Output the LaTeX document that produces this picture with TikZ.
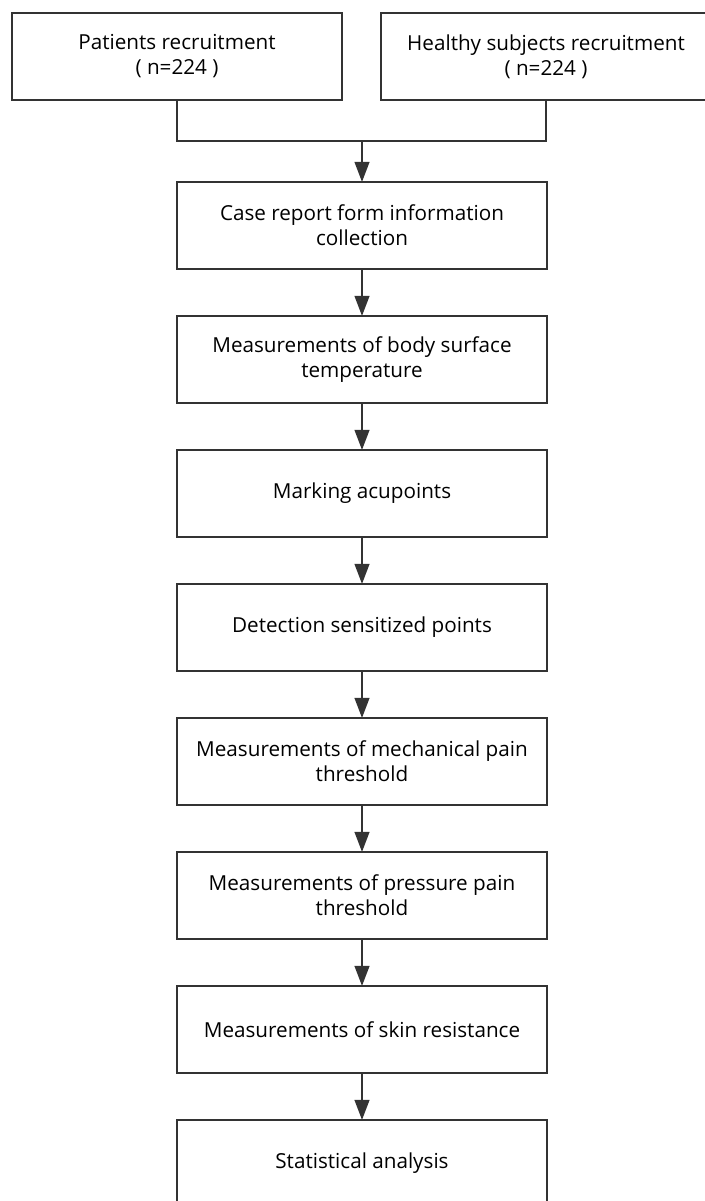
\documentclass[tikz,border=0pt]{standalone}
\usepackage{fontspec}
\setmainfont{Open Sans}
\usetikzlibrary{arrows.meta,positioning}

\tikzset{
  stepbox/.style={draw=black!80,line width=1.5pt,outer sep=0pt,align=center,
    minimum width=277.5pt,minimum height=65.25pt,font=\fontsize{15.5}{18.75}\selectfont},
  topbox/.style={stepbox,minimum width=247.5pt},
  flow/.style={draw=black!80,line width=1.5pt,-{Triangle[length=15pt,width=11pt]}}
}

\begin{document}
\begin{tikzpicture}[node distance=35.25pt]
      \useasboundingbox (0,0) rectangle (528pt,-900.75pt);
      % recruitment
      \node[topbox] (patients) at (132.75pt,-42.4pt) {Patients recruitment\\( n=224 )};
      \node[topbox] (healthy) at (409.5pt,-42.4pt) {Healthy subjects recruitment\\( n=224 )};
      \coordinate (join) at (271.5pt,-105.75pt);
      % main steps
      \node[stepbox] (crf) at (271.5pt,-169.1pt) {Case report form information\\collection};
      \node[stepbox,below=of crf] (temp) {Measurements of body surface\\temperature};
      \node[stepbox,below=of temp] (mark) {Marking acupoints};
      \node[stepbox,below=of mark] (detect) {Detection sensitized points};
      \node[stepbox,below=of detect] (mech) {Measurements of mechanical pain\\threshold};
      \node[stepbox,below=of mech] (press) {Measurements of pressure pain\\threshold};
      \node[stepbox,below=of press] (skin) {Measurements of skin resistance};
      \node[stepbox,below=of skin] (stats) {Statistical analysis};
      % connectors
      \draw[draw=black!80,line width=1.5pt] (patients.south) |- (join) -| (healthy.south);
      \draw[flow] (join) -- (crf);
      \foreach \a/\b in {crf/temp, temp/mark, mark/detect, detect/mech, mech/press, press/skin, skin/stats}{
        \draw[flow] (\a) -- (\b);
      }
\end{tikzpicture}
\end{document}
